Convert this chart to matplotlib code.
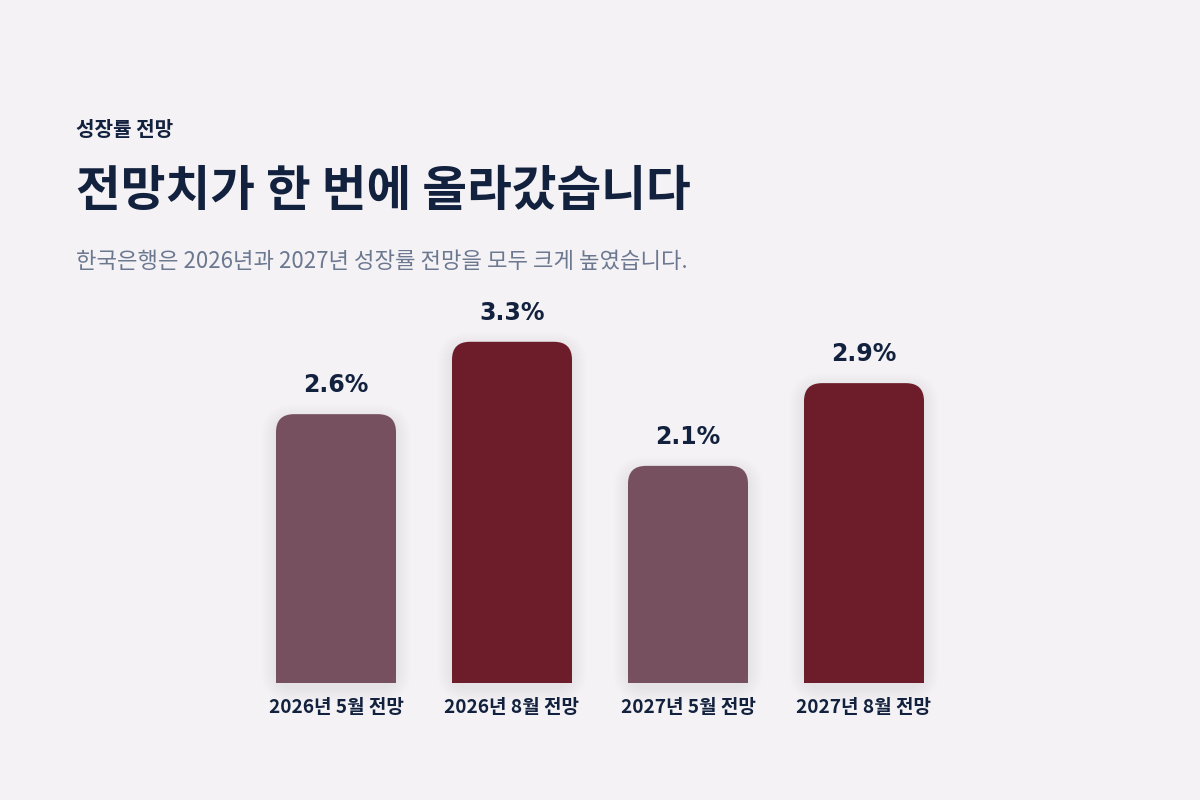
import matplotlib.pyplot as plt
from matplotlib.patches import FancyBboxPatch, Rectangle

categories = ["2026년 5월 전망", "2026년 8월 전망", "2027년 5월 전망", "2027년 8월 전망"]
values = [2.6, 3.3, 2.1, 2.9]
value_labels = ["2.6%", "3.3%", "2.1%", "2.9%"]
bar_colors = ["#76505e", "#6d1c2a", "#76505e", "#6d1c2a"]

BG = "#f4f2f5"
NAVY = "#12213d"
GRAY = "#6b7890"
KR = ["Noto Sans CJK KR", "DejaVu Sans"]

fig = plt.figure(figsize=(12, 8), dpi=100, facecolor=BG)

# axes: bar 0 centre at x=336px, 176px between bars; baseline at y=683px
px_x = 176.0   # pixels per x unit
px_y = 103.4   # pixels per y unit
ax = fig.add_axes([200 / 1200, 117 / 800, 800 / 1200, 4 * px_y / 800])
ax.set_facecolor(BG)
ax.set_xlim(-136 / px_x, 3 + 136 / px_x)
ax.set_ylim(0, 4)
for s in ax.spines.values():
    s.set_visible(False)
ax.set_yticks([])

width = 120 / px_x
r = 18 / px_x
aspect = px_x / px_y

for i, (v, c) in enumerate(zip(values, bar_colors)):
    x0 = i - width / 2
    # soft shadow
    for k in range(1, 16):
        pad = k / px_x
        sh = FancyBboxPatch((x0, -5 / px_y), width, v, boxstyle=f"round,pad={pad},rounding_size={r + pad}",
                            mutation_aspect=aspect, facecolor="#2a1a30", edgecolor="none",
                            alpha=0.005, zorder=1, clip_on=False)
        ax.add_patch(sh)
    ax.add_patch(FancyBboxPatch((x0, 0), width, v, boxstyle=f"round,pad=0,rounding_size={r}",
                                mutation_aspect=aspect, facecolor=c, edgecolor="none", zorder=2))
    ax.add_patch(Rectangle((x0, 0), width, v / 2, facecolor=c, edgecolor="none", zorder=2))
    ax.annotate(value_labels[i], (i, v), xytext=(0, 21), textcoords="offset points",
                ha="center", va="center", fontsize=17, fontweight="bold",
                family="DejaVu Sans", color=NAVY, zorder=3)

ax.set_xticks(range(len(categories)))
ax.set_xticklabels(categories, family=KR, fontsize=13.7, fontweight="bold", color=NAVY)
ax.tick_params(axis="x", length=0, pad=11)

fig.text(76 / 1200, 1 - 129 / 800, "성장률 전망", family=KR, fontsize=14.5, fontweight="bold",
         color=NAVY, va="center", ha="left")
fig.text(76 / 1200, 1 - 191 / 800, "전망치가 한 번에 올라갔습니다", family=KR, fontsize=35,
         fontweight="bold", color=NAVY, va="center", ha="left")
fig.text(76 / 1200, 1 - 262 / 800, "한국은행은 2026년과 2027년 성장률 전망을 모두 크게 높였습니다.",
         family=KR, fontsize=16, color=GRAY, va="center", ha="left")

fig.savefig("out.png", dpi=100, facecolor=BG)
